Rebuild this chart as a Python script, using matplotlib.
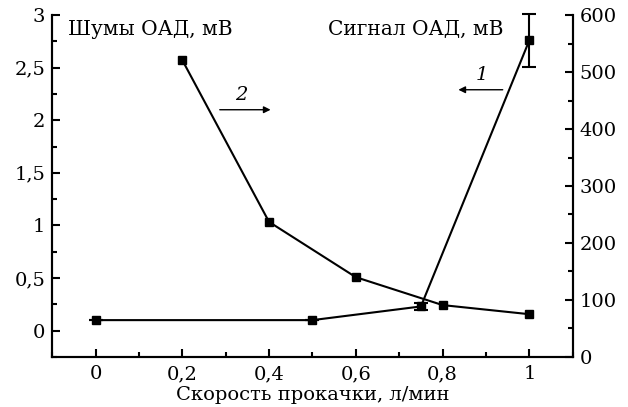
import matplotlib
matplotlib.use('Agg')
import matplotlib.pyplot as plt
from matplotlib.ticker import FuncFormatter, MultipleLocator

# curve 1 - noise (left axis)
x1 = [0, 0.5, 0.75, 1.0]
noise = [0.1, 0.1, 0.23, 2.76]
noise_err = [0, 0, 0.03, 0.25]

# curve 2 - signal (right axis)
x2 = [0.2, 0.4, 0.6, 0.8, 1.0]
signal = [521, 237, 140, 91, 75]

plt.rcParams['font.family'] = ['DejaVu Serif']
plt.rcParams['mathtext.fontset'] = 'dejavuserif'


def comma(v, pos):
    s = ('%.1f' % v).rstrip('0').rstrip('.')
    return s.replace('.', ',')


fig = plt.figure(figsize=(6.28, 4.07), dpi=100)
ax = fig.add_axes([0.083, 0.123, 0.829, 0.840])
ax2 = ax.twinx()

_, caps, bars = ax.errorbar(x1, noise, yerr=noise_err, color='black', lw=1.5, marker='s',
                            ms=6, capsize=5, elinewidth=1.5, capthick=1.5)
for c in caps:
    c.set_clip_on(False)
for b in bars:
    b.set_clip_on(False)
ax2.plot(x2, signal, color='black', lw=1.5, marker='s', ms=6)

ax.set_xlim(-0.1, 1.1)
ax.set_ylim(-0.25, 3)
ax2.set_ylim(0, 600)

ax.xaxis.set_major_locator(MultipleLocator(0.2))
ax.xaxis.set_minor_locator(MultipleLocator(0.1))
ax.yaxis.set_major_locator(MultipleLocator(0.5))
ax.yaxis.set_minor_locator(MultipleLocator(0.25))
ax2.yaxis.set_major_locator(MultipleLocator(100))
ax2.yaxis.set_minor_locator(MultipleLocator(50))
ax.xaxis.set_major_formatter(FuncFormatter(comma))
ax.yaxis.set_major_formatter(FuncFormatter(comma))

for a in (ax, ax2):
    a.spines['top'].set_visible(False)
    for s in a.spines.values():
        s.set_linewidth(1.5)
    a.tick_params(which='both', direction='in', width=1.5, labelsize=14)
    a.tick_params(which='major', length=6, pad=5)
    a.tick_params(which='minor', length=3.5)
ax.tick_params(axis='x', pad=6)
ax.tick_params(axis='y', which='both', right=False)
ax2.tick_params(axis='y', which='both', left=False)

ax.text(-0.063, 2.95, 'Шумы ОАД, мВ', fontsize=14.5, va='top', ha='left')
ax.text(0.535, 2.95, 'Сигнал ОАД, мВ', fontsize=14.5, va='top', ha='left')

ax.annotate('', xy=(0.41, 2.10), xytext=(0.28, 2.10),
            arrowprops=dict(arrowstyle='-|>', color='black', lw=1, mutation_scale=10))
ax.text(0.335, 2.15, '2', fontsize=14, style='italic', ha='center', va='bottom')
ax.annotate('', xy=(0.83, 2.29), xytext=(0.945, 2.29),
            arrowprops=dict(arrowstyle='-|>', color='black', lw=1, mutation_scale=10))
ax.text(0.89, 2.34, '1', fontsize=14, style='italic', ha='center', va='bottom')

ax.set_xlabel('Скорость прокачки, л/мин', fontsize=14, labelpad=2)

fig.savefig('out.png', dpi=100)
